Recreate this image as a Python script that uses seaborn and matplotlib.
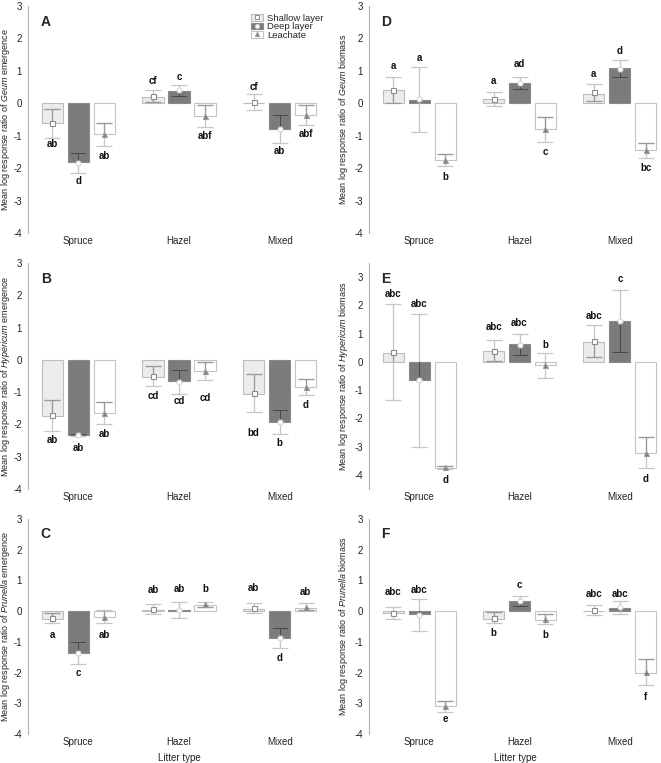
import numpy as np
import pandas as pd
import seaborn as sns
import matplotlib
matplotlib.use("Agg")
import matplotlib.pyplot as plt
from matplotlib.patches import Patch
from matplotlib.lines import Line2D

# categories
litter = ["Spruce", "Hazel", "Mixed"]
layers = ["Shallow layer", "Deep layer", "Leachate"]

# values per panel: rows = litter type, cols = layer
A_bar = [[-0.62, -1.82, -0.95], [0.20, 0.38, -0.40], [0.02, -0.80, -0.37]]
A_mean = [[-0.62, -1.84, -0.96], [0.22, 0.40, -0.39], [0.03, -0.80, -0.36]]
A_err = [[0.45, 0.31, 0.35], [0.18, 0.16, 0.35], [0.25, 0.43, 0.31]]
A_let = [["ab", "d", "ab"], ["cf", "c", "abf"], ["cf", "ab", "abf"]]
A_let_y = [[-1.27, -2.40, -1.64], [0.69, 0.80, -1.02], [0.50, -1.48, -0.96]]

B_bar = [[-1.75, -2.32, -1.66], [-0.52, -0.65, -0.36], [-1.05, -1.91, -0.83]]
B_mean = [[-1.72, -2.33, -1.65], [-0.50, -0.68, -0.35], [-1.03, -1.92, -0.84]]
B_err = [[0.48, 0.02, 0.35], [0.32, 0.37, 0.27], [0.60, 0.37, 0.25]]
B_let = [["ab", "ab", "ab"], ["cd", "cd", "cd"], ["bd", "b", "d"]]
B_let_y = [[-2.47, -2.72, -2.31], [-1.12, -1.26, -1.18], [-2.26, -2.56, -1.39]]

C_bar = [[-0.26, -1.35, -0.20], [0.05, 0.03, 0.20], [0.08, -0.86, 0.10]]
C_mean = [[-0.22, -1.36, -0.18], [0.08, 0.05, 0.22], [0.10, -0.87, 0.15]]
C_err = [[0.15, 0.36, 0.22], [0.16, 0.26, 0.09], [0.17, 0.33, 0.11]]
C_let = [["a", "c", "ab"], ["ab", "ab", "b"], ["ab", "d", "ab"]]
C_let_y = [[-0.79, -2.02, -0.77], [0.70, 0.73, 0.73], [0.75, -1.53, 0.62]]

D_bar = [[0.40, 0.10, -1.75], [0.12, 0.62, -0.80], [0.30, 1.10, -1.44]]
D_mean = [[0.40, 0.12, -1.75], [0.13, 0.62, -0.80], [0.34, 1.07, -1.45]]
D_err = [[0.40, 1.00, 0.18], [0.22, 0.18, 0.38], [0.26, 0.26, 0.23]]
D_let = [["a", "a", "b"], ["a", "ad", "c"], ["a", "d", "bc"]]
D_let_y = [[1.15, 1.41, -2.27], [0.69, 1.20, -1.50], [0.90, 1.62, -2.00]]

E_bar = [[0.32, -0.65, -3.76], [0.38, 0.62, -0.12], [0.70, 1.44, -3.23]]
E_mean = [[0.35, -0.65, -3.73], [0.40, 0.60, -0.12], [0.74, 1.45, -3.22]]
E_err = [[1.71, 2.35, 0.05], [0.38, 0.37, 0.45], [0.57, 1.11, 0.55]]
E_let = [["abc", "abc", "d"], ["abc", "abc", "b"], ["abc", "c", "d"]]
E_let_y = [[2.40, 2.05, -4.18], [1.24, 1.39, 0.60], [1.61, 2.94, -4.15]]

F_bar = [[-0.06, -0.10, -3.10], [-0.25, 0.32, -0.30], [0.00, 0.10, -2.00]]
F_mean = [[-0.07, -0.12, -3.10], [-0.22, 0.33, -0.25], [0.03, 0.12, -1.98]]
F_err = [[0.19, 0.53, 0.17], [0.18, 0.16, 0.17], [0.16, 0.20, 0.43]]
F_let = [["abc", "abc", "e"], ["b", "c", "b"], ["abc", "abc", "f"]]
F_let_y = [[0.61, 0.70, -3.52], [-0.72, 0.86, -0.79], [0.57, 0.57, -2.78]]

sns.set_style("white")
plt.rcParams["font.family"] = ["Liberation Sans", "DejaVu Sans"]
plt.rcParams["axes.unicode_minus"] = False
plt.rcParams["mathtext.fontset"] = "custom"
plt.rcParams["mathtext.rm"] = "Liberation Sans"
plt.rcParams["mathtext.it"] = "Liberation Sans:italic"
plt.rcParams["mathtext.bf"] = "Liberation Sans:bold"

fill = {"Shallow layer": "#ececec", "Deep layer": "#7b7b7b", "Leachate": "#ffffff"}
edges = ["#bdbdbd", "#8a8a8a", "#c4c4c4"]
err_in = ["#9a9a9a", "#474747", "#9a9a9a"]
err_out = "#c6c6c6"
mstyle = [("s", "white", "#8c8c8c"), ("o", "white", "#d4d4d4"), ("^", "#7d7d7d", "#9a9a9a")]


def draw_panel(ax, bar, mean, err, let, let_y, tag, species, measure, ylim, xlabel, xmax):
    df = pd.DataFrame({
        "litter": np.repeat(litter, 3),
        "layer": layers * 3,
        "value": np.ravel(bar),
    })
    sns.barplot(data=df, x="litter", y="value", hue="layer", order=litter,
                hue_order=layers, palette=fill, errorbar=None, saturation=1,
                width=0.775, gap=0.19, linewidth=0.8, legend=False, ax=ax)
    bar_sets = list(ax.containers)
    for j, cont in enumerate(bar_sets):
        for i, p in enumerate(cont.patches):
            p.set_edgecolor(edges[j])
            x = p.get_x() + p.get_width() / 2
            m, e = mean[i][j], err[i][j]
            # light part outside the bar
            ax.errorbar(x, m, yerr=e, fmt="none", ecolor=err_out, elinewidth=0.9,
                        capsize=5.5, capthick=0.9, zorder=3)
            # darker part seen through the bar
            eb = ax.errorbar(x, m, yerr=e, fmt="none", ecolor=err_in[j], elinewidth=0.9,
                             capsize=5.5, capthick=0.9, zorder=4)
            for art in list(eb.lines[1]) + list(eb.lines[2]):
                art.set_clip_path(p)
            mk, fc, ec = mstyle[j]
            ax.plot(x, m, marker=mk, ms=3.6, mfc=fc, mec=ec, mew=0.8, zorder=6)
            ax.text(x, let_y[i][j], let[i][j], ha="center", va="center",
                    fontsize=7, fontweight="bold", color="#111111")
    ax.set_ylim(*ylim)
    ax.set_yticks(range(-4, 4))
    ax.set_xlim(-0.5, xmax)
    sns.despine(ax=ax, bottom=True)
    ax.spines["left"].set_color("#b0b0b0")
    ax.spines["left"].set_linewidth(0.8)
    ax.tick_params(axis="y", length=2.5, width=0.6, color="#b0b0b0", labelsize=7,
                   labelcolor="#222222", pad=2)
    ax.tick_params(axis="x", length=0, labelsize=7, labelcolor="#222222", pad=2.5)
    ax.set_ylabel(f"Mean log response ratio of $\\mathit{{{species}}}$ {measure}",
                  fontsize=6.5, color="#222222")
    ax.set_xlabel(xlabel, fontsize=7, color="#222222", labelpad=4)
    ax.text(0.042, 0.93, tag, transform=ax.transAxes, fontsize=10,
            fontweight="bold", ha="left", va="center")


fig = plt.figure(figsize=(6.61, 7.63), dpi=100)
W, H = 661, 763
cols = [(28, 302), (369, 292)]
rows = [(6, 233), (263, 489), (519, 734)]
axes = {}
for c, (x0, w) in enumerate(cols):
    for r, (top, bot) in enumerate(rows):
        axes[(r, c)] = fig.add_axes([x0 / W, 1 - bot / H, w / W, (bot - top) / H])

draw_panel(axes[(0, 0)], A_bar, A_mean, A_err, A_let, A_let_y, "A", "Geum", "emergence", (-4, 3), "", 2.5)
draw_panel(axes[(1, 0)], B_bar, B_mean, B_err, B_let, B_let_y, "B", "Hypericum", "emergence", (-4, 3), "", 2.5)
draw_panel(axes[(2, 0)], C_bar, C_mean, C_err, C_let, C_let_y, "C", "Prunella", "emergence", (-4, 3), "Litter type", 2.5)
draw_panel(axes[(0, 1)], D_bar, D_mean, D_err, D_let, D_let_y, "D", "Geum", "biomass", (-4, 3), "", 2.41)
draw_panel(axes[(1, 1)], E_bar, E_mean, E_err, E_let, E_let_y, "E", "Hypericum", "biomass", (-4.5, 3.5), "", 2.41)
draw_panel(axes[(2, 1)], F_bar, F_mean, F_err, F_let, F_let_y, "F", "Prunella", "biomass", (-4, 3), "Litter type", 2.41)

for (r, c), ax in axes.items():
    ax.yaxis.set_label_coords(-0.052 if c == 0 else -0.066, 0.5)

# legend in panel A
handles = []
for j, name in enumerate(layers):
    mk, fc, ec = mstyle[j]
    handles.append((Patch(facecolor=fill[name], edgecolor=edges[j], linewidth=0.8),
                    Line2D([], [], marker=mk, ls="none", ms=3, mfc=fc, mec=ec, mew=0.7)))
axes[(0, 0)].legend(handles, layers, loc="upper right", bbox_to_anchor=(1.0, 0.995),
                    fontsize=6.8, frameon=False, handlelength=1.3, handleheight=0.7,
                    handletextpad=0.4, labelspacing=-0.05, borderpad=0.2)

fig.savefig("out.png", dpi=100)
